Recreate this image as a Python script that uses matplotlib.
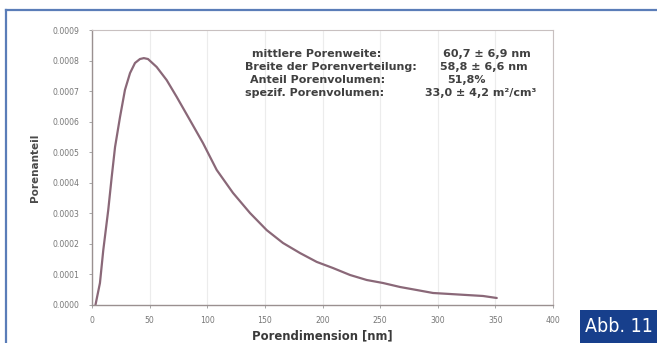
import matplotlib
matplotlib.use("Agg")
import matplotlib.pyplot as plt
from matplotlib.patches import Rectangle
from matplotlib.lines import Line2D

# Pore size distribution (pore dimension in nm vs. fraction)
pore_nm = [3, 6.9, 9.8, 14.1, 17.1, 20.0, 24.3, 28.6, 33.0, 37.3, 41.6, 45.0,
           48.6, 56.1, 64.8, 73.5, 85.0, 96.3, 108.2, 122.3, 137.1, 151.6,
           165.7, 180.5, 195.0, 209.1, 223.9, 238.4, 252.5, 267.3, 281.7,
           295.9, 310.6, 325.1, 339.3, 351.2]
fraction = [0.0, 0.0000720, 0.000180, 0.000311, 0.000419, 0.000517, 0.000615,
            0.000704, 0.000759, 0.000792, 0.000805, 0.000808, 0.000805,
            0.000779, 0.000736, 0.000681, 0.000605, 0.000530, 0.000442,
            0.000367, 0.000301, 0.000245, 0.000203, 0.000170, 0.000141,
            0.000121, 0.0000982, 0.0000818, 0.0000720, 0.0000589, 0.0000491,
            0.0000393, 0.0000360, 0.0000327, 0.0000295, 0.0000229]

x_ticks = [0, 50, 100, 150, 200, 250, 300, 350, 400]
y_ticks = [0.0000, 0.0001, 0.0002, 0.0003, 0.0004, 0.0005, 0.0006, 0.0007,
           0.0008, 0.0009]

stat_labels = ["mittlere Porenweite:", "Breite der Porenverteilung:",
               "Anteil Porenvolumen:", "spezif. Porenvolumen:"]
stat_values = ["60,7 \u00b1 6,9 nm", "58,8 \u00b1 6,6 nm", "51,8%",
               "33,0 \u00b1 4,2 m\u00b2/cm\u00b3"]

W, H = 657, 343
fig = plt.figure(figsize=(W / 100, H / 100), dpi=100)
fig.patch.set_facecolor("white")

ax = fig.add_axes([92 / W, 1 - 305 / H, (553 - 92) / W, (305 - 30) / H])
ax.plot(pore_nm, fraction, color="#8a6878", lw=1.6, solid_capstyle="round",
        solid_joinstyle="round")
ax.set_xlim(0, 400)
ax.set_ylim(0, 0.0009)
ax.set_xticks(x_ticks)
ax.set_xticklabels([str(v) for v in x_ticks])
ax.set_yticks(y_ticks)
ax.set_yticklabels([f"{v:.4f}" for v in y_ticks])
ax.tick_params(axis="both", labelsize=5.6, colors="#999999", labelcolor="#777777",
               length=2, width=0.6)
ax.tick_params(axis="y", pad=7)
ax.tick_params(axis="x", pad=6)
ax.grid(axis="x", color="#ececec", lw=0.8)
for side in ["top", "right"]:
    ax.spines[side].set_color("#c8c0c0")
    ax.spines[side].set_linewidth(0.8)
for side in ["left", "bottom"]:
    ax.spines[side].set_color("#9a9090")
    ax.spines[side].set_linewidth(1.0)

ax.set_xlabel("Porendimension [nm]", fontsize=8.4, fontweight="bold",
              color="#3a3a3a", labelpad=3)
ax.set_ylabel("Porenanteil", fontsize=7.5, fontweight="bold", color="#4a4a4a",
              labelpad=9)

# statistics block
ys = [54, 67, 80, 93]
lx = [252, 245, 250, 245]
vx = [443, 440, 447, 425]
for lab, val, y, x0, x1 in zip(stat_labels, stat_values, ys, lx, vx):
    fig.text(x0 / W, 1 - y / H, lab, fontsize=8.0, fontweight="bold",
             color="#404040", va="center", ha="left")
    fig.text(x1 / W, 1 - y / H, val, fontsize=8.0, fontweight="bold",
             color="#404040", va="center", ha="left")

# blue frame
frame_col = "#5a7db8"
fig.add_artist(Line2D([6 / W, 1.0], [1 - 10 / H, 1 - 10 / H], color=frame_col,
                      lw=1.6, transform=fig.transFigure))
fig.add_artist(Line2D([6 / W, 6 / W], [0, 1 - 10 / H], color=frame_col,
                      lw=1.6, transform=fig.transFigure))

# figure label box
fig.add_artist(Rectangle((580 / W, 0), (W - 580) / W, 33 / H,
                         transform=fig.transFigure, facecolor="#173f8c",
                         edgecolor="none"))
fig.text(585 / W, 1 - 326 / H, "Abb. 11", fontsize=14, color="white",
         ha="left", va="center", family="DejaVu Sans", fontstretch="condensed")

fig.savefig("out.png", dpi=100)
